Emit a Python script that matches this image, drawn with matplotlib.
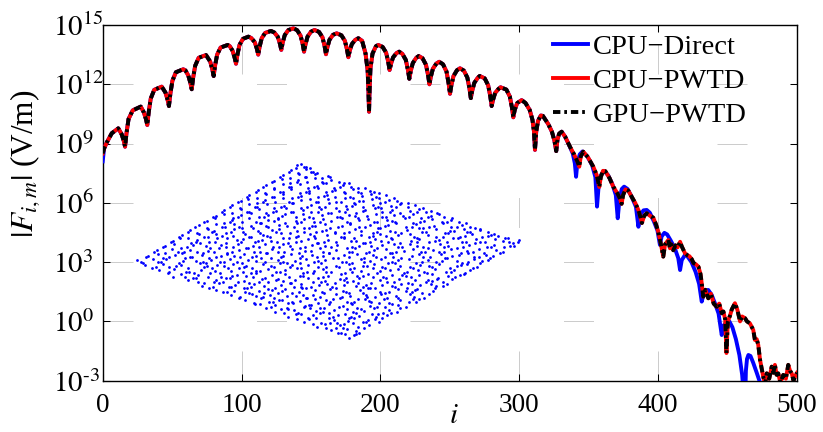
import numpy as np
import matplotlib
matplotlib.use('Agg')
import matplotlib.pyplot as plt
from matplotlib.ticker import FixedLocator, NullLocator

plt.rcParams['font.family'] = ['Liberation Serif', 'DejaVu Serif']
plt.rcParams['mathtext.fontset'] = 'stix'

# ---------------- data ----------------
x_ticks = [0, 100, 200, 300, 400, 500]
y_exps = [-3, 0, 3, 6, 9, 12, 15]
legend_labels = ['CPU\u2212Direct', 'CPU\u2212PWTD', 'GPU\u2212PWTD']

# (i, log10|F|)
pwtd_head = [(0.0, 8.50)]
direct_head = [(0.0, 8.10)]

common_pts = [
    (1.0, 8.75), (2.9, 9.05), (6.5, 9.52), (11.2, 9.77), (13.6, 9.48), (15.1, 9.15), (16.1, 8.84),
    (17.1, 9.51), (18.6, 10.24), (21.6, 10.68), (27.4, 10.87), (29.6, 10.58), (31.1, 10.25), (32.1, 9.94),
    (33.1, 10.58), (34.6, 11.28), (37.1, 11.72), (42.5, 11.88), (45.2, 11.58), (46.7, 11.22), (47.7, 10.90),
    (48.7, 11.51), (50.2, 12.18), (52.7, 12.61), (58.0, 12.76), (59.6, 12.70), (61.6, 12.45), (63.1, 12.08), (64.1, 11.75),
    (65.1, 12.32), (66.6, 12.94), (69.1, 13.34), (74.4, 13.48), (77.4, 13.15), (78.9, 12.77), (79.9, 12.42),
    (80.9, 12.94), (82.4, 13.50), (84.9, 13.86), (90.0, 13.99), (91.5, 13.93), (93.5, 13.70), (95.0, 13.35), (96.0, 13.04),
    (97.0, 13.49), (98.5, 13.99), (101.0, 14.30), (104.9, 14.41), (107.0, 14.34), (109.5, 14.13), (111.0, 13.80), (112.0, 13.50),
    (113.0, 13.90), (114.5, 14.33), (117.0, 14.60), (121.2, 14.70), (123.6, 14.62), (126.1, 14.40), (127.6, 14.06), (128.6, 13.74),
    (129.6, 14.10), (131.1, 14.49), (133.6, 14.74), (137.3, 14.83), (140.0, 14.74), (142.5, 14.46), (144.0, 14.04), (145.0, 13.65),
    (146.0, 14.01), (147.5, 14.41), (150.0, 14.66), (152.5, 14.75), (155.8, 14.65), (158.3, 14.37), (159.8, 13.93), (160.8, 13.52),
    (161.8, 13.87), (163.3, 14.25), (165.8, 14.50), (168.5, 14.58), (171.9, 14.48), (174.4, 14.20), (175.9, 13.77), (176.9, 13.37),
    (177.9, 13.69), (179.4, 14.03), (181.9, 14.25), (184.1, 14.33), (186.8, 14.20), (189.3, 13.55), (190.8, 12.70), (191.4, 11.60), (191.8, 10.61),
    (192.2, 11.70), (192.8, 12.80), (194.3, 13.55), (196.8, 13.93), (198.5, 13.99), (201.6, 13.89), (204.1, 13.60), (205.6, 13.14), (206.6, 12.72),
    (207.6, 13.03), (209.1, 13.36), (211.6, 13.58), (213.5, 13.65), (215.8, 13.54), (218.3, 13.23), (219.8, 12.73), (220.8, 12.28),
    (221.8, 12.66), (223.3, 13.07), (225.8, 13.34), (227.6, 13.43), (230.3, 13.32), (232.8, 12.99), (234.3, 12.47), (235.3, 12.00),
    (236.3, 12.38), (237.8, 12.79), (240.3, 13.05), (242.3, 13.14), (245.1, 13.01), (247.6, 12.64), (249.1, 12.05), (250.1, 11.52),
    (251.1, 11.95), (252.6, 12.41), (255.1, 12.71), (257.3, 12.81), (260.1, 12.69), (262.6, 12.34), (264.1, 11.80), (265.1, 11.30),
    (266.1, 11.67), (267.6, 12.07), (270.1, 12.33), (271.5, 12.42), (275.1, 12.30), (277.6, 11.95), (279.1, 11.40), (280.1, 10.90),
    (281.1, 11.21), (282.6, 11.56), (285.1, 11.77), (286.5, 11.85), (290.7, 11.73), (293.2, 11.38), (294.7, 10.83), (295.7, 10.33),
    (296.7, 10.70), (298.5, 11.05), (301.7, 11.20), (304.5, 11.05), (307.5, 10.70), (309.5, 10.20), (310.6, 9.60), (311.3, 8.68),
    (312.2, 9.60), (313.5, 10.15), (315.5, 10.42), (317.0, 10.40), (320.9, 9.98), (323.5, 9.60), (325.3, 9.15), (326.6, 8.62),
    (327.5, 9.20), (328.7, 9.50), (330.5, 9.60), (333.0, 9.35),
]

pwtd_tail = [
    (336.5, 8.84), (339.5, 8.45), (341.8, 8.10), (343.2, 7.83), (344.3, 8.35), (346.1, 8.59), (349.5, 8.30),
    (353.3, 7.83), (355.8, 7.40), (357.6, 6.80), (358.7, 7.30), (360.3, 7.62), (362.0, 7.60), (365.0, 7.25),
    (367.7, 6.82), (370.5, 6.50), (372.6, 6.20), (373.7, 5.95), (374.8, 6.40), (376.5, 6.68), (378.5, 6.62),
    (381.0, 6.30), (383.5, 6.00), (386.0, 5.60), (388.3, 4.98), (390.0, 5.35), (391.8, 5.47), (394.0, 5.35),
    (396.5, 5.25), (398.5, 4.90), (400.1, 4.54), (402.0, 3.90), (403.7, 3.28), (405.0, 3.90), (407.3, 4.12),
    (408.5, 3.70), (409.5, 3.90), (410.9, 3.60), (412.5, 3.85), (414.0, 3.75), (415.8, 4.03), (417.0, 3.80),
    (419.3, 3.45), (421.0, 3.35), (422.5, 3.30), (424.2, 3.15), (425.5, 2.95), (427.0, 2.90), (429.0, 2.77),
    (430.5, 2.40), (431.4, 1.93), (432.5, 1.25), (434.0, 1.60), (436.1, 1.17), (438.0, 1.40), (440.0, 0.90),
    (442.2, 0.74), (444.0, 0.90), (445.8, 0.41), (447.0, 0.50), (448.3, 0.10), (449.2, -1.60), (450.2, 0.00),
    (451.8, 0.30), (453.0, 0.60), (455.3, 0.92), (457.0, 0.60), (459.0, 0.00), (460.5, 0.25), (462.6, 0.16),
    (464.0, 0.00), (466.1, -0.10), (468.5, -0.43), (469.7, -0.94), (471.0, -0.90), (472.1, -1.19), (473.4, -1.95),
    (475.7, -2.80), (477.0, -3.20), (478.2, -2.63), (480.0, -2.90), (481.8, -2.29), (483.0, -2.60), (484.1, -2.20),
    (485.3, -2.70), (486.5, -2.63), (488.0, -3.10), (490.1, -2.71), (492.0, -2.90), (493.7, -2.20), (495.0, -2.50),
    (496.2, -2.63), (497.5, -3.00), (498.5, -2.80), (500.0, -2.60),
]

direct_tail = [
    (336.0, 8.90), (338.5, 8.50), (340.0, 8.00), (340.9, 7.32), (341.8, 8.00), (343.5, 8.45), (345.5, 8.60),
    (349.0, 8.35), (352.5, 7.90), (354.8, 7.30), (356.0, 5.81), (357.2, 6.90), (358.8, 7.40), (361.0, 7.62),
    (364.0, 7.40), (367.0, 6.95), (369.5, 6.40), (370.9, 5.22), (372.2, 6.20), (373.8, 6.70), (375.5, 6.82),
    (378.0, 6.70), (381.0, 6.30), (384.0, 5.80), (385.8, 4.79), (387.2, 5.40), (389.5, 5.62), (391.8, 5.64),
    (394.0, 5.50), (397.0, 5.05), (399.5, 4.60), (401.3, 3.87), (402.5, 4.30), (404.5, 4.48), (406.5, 4.40),
    (409.0, 4.10), (412.0, 3.70), (414.5, 3.20), (415.8, 2.60), (417.0, 3.10), (419.3, 3.36), (421.0, 3.30),
    (424.0, 3.00), (427.0, 2.50), (429.5, 1.90), (431.4, 1.00), (432.8, 1.40), (434.5, 1.58), (436.1, 1.59),
    (438.5, 1.35), (441.0, 0.90), (443.5, 0.40), (445.8, -0.69), (447.3, -0.20), (449.5, 0.00), (451.3, 0.00),
    (453.5, -0.30), (456.0, -0.90), (458.5, -1.70), (460.5, -2.70), (461.5, -3.60), (462.5, -4.50), (463.2, -2.50),
    (464.0, -1.90), (465.0, -1.70), (466.5, -1.75), (468.5, -2.10), (471.0, -2.60), (473.4, -3.10), (475.0, -3.80),
    (478.0, -4.50), (500.0, -5.00),
]

# inset point cloud (local inset coordinates u, v), read band by band
cloud_points = [
    (215,5.6),(219,2.4),(224,4.8),
    (201,10.3),(208,7.1),(213,11.6),(226,8.9),(229,6.8),
    (187,13.2),(195,16.3),(206,12.1),(210,14.8),(223,16.9),(228,12.6),(239,15.0),
    (174,18.0),(179,21.3),(191,17.2),(204,20.1),(207,16.9),(218,19.4),(224,21.9),(236,17.7),(245,20.6),(249,18.3),
    (158,23.5),(166,26.3),(178,22.1),(183,25.0),(190,26.8),(203,23.2),(215,25.7),(219,21.8),(229,24.3),(242,26.1),(246,22.6),(257,24.9),
    (145,28.2),(151,31.1),(164,29.6),(168,26.8),(180,31.7),(186,28.7),(199,27.1),(204,30.5),(217,31.4),(223,27.9),(234,29.0),(244,31.8),(253,26.7),(259,30.2),(267,28.4),
    (130,36.2),(136,32.4),(145,34.9),(157,31.8),(163,36.7),(175,33.6),(179,35.3),(194,31.9),(199,36.4),(209,33.0),(222,35.6),(227,32.1),(240,34.4),(249,36.8),(255,32.7),(268,35.1),(276,33.3),
    (115,39.8),(124,37.0),(131,41.6),(139,38.2),(152,40.5),(158,36.9),(170,39.3),(177,41.8),(188,37.4),(196,40.0),(203,41.5),(217,38.5),(221,36.7),(235,40.9),(241,38.0),(254,41.2),(259,37.1),(270,39.6),(283,41.0),(286,37.6),
    (101,44.7),(109,42.1),(122,46.3),(126,43.6),(140,45.0),(144,41.8),(157,44.2),(162,46.8),(176,42.5),(183,45.4),(190,43.1),(206,46.1),(210,41.9),(220,44.5),(233,46.6),(237,42.9),(251,45.6),(257,41.7),(266,44.0),(280,46.4),(284,43.3),(294,42.0),
    (86,50.3),(93,47.6),(104,49.4),(114,51.8),(119,46.9),(129,49.0),(138,51.2),(148,47.3),(155,50.6),(169,48.4),(172,51.7),(185,49.8),(194,46.8),(200,51.1),(213,48.9),(219,47.1),(230,50.2),(238,51.9),(250,48.1),(255,46.6),(268,50.8),(276,48.6),(287,51.4),(292,47.4),(303,49.3),
    (72,54.4),(79,51.8),(89,56.7),(99,53.5),(105,55.3),(117,52.3),(124,56.5),(134,54.1),(145,51.6),(151,55.2),(160,56.9),(171,53.0),(176,51.7),(189,54.7),(197,56.2),(206,52.4),(214,54.9),(228,56.8),(233,53.2),(240,51.9),(252,55.5),(262,53.7),(271,56.4),(277,52.0),(290,54.6),(301,56.1),(305,52.5),(313,54.0),
    (58,59.6),(66,61.7),(74,57.0),(86,60.3),(93,58.1),(100,61.9),(114,59.2),(119,56.8),(132,60.7),(138,58.3),(148,61.4),(161,57.5),(165,60.0),(178,62.0),(183,57.9),(195,59.5),(205,56.6),(210,61.2),(223,58.6),(229,61.8),(241,57.3),(250,60.4),(257,58.0),(269,61.5),(278,56.9),(285,59.9),(296,57.7),(307,61.1),(313,58.5),(322,60.6),
    (43,63.1),(51,65.9),(63,62.4),(68,64.6),(80,66.8),(91,63.0),(96,61.8),(107,65.3),(116,63.7),(126,66.6),(135,62.1),(142,64.9),(155,66.3),(159,62.6),(170,64.1),(183,66.9),(188,61.9),(198,63.8),(211,65.7),(216,62.2),(227,64.4),(238,66.5),(243,63.3),(256,61.7),(262,65.1),(274,66.7),(281,62.8),(289,64.7),(302,66.1),(308,61.8),(318,63.6),(330,65.5),
    (29,69.8),(38,67.1),(44,71.2),(56,68.4),(64,66.7),(71,70.5),(82,71.9),(90,67.5),(101,69.3),(109,71.6),(121,66.9),(126,68.8),(138,71.0),(146,67.6),(155,70.1),(167,71.8),(173,66.6),(184,69.0),(193,71.4),(201,68.2),(215,66.8),(220,70.7),(231,68.9),(243,71.7),(247,67.0),(260,69.6),(268,71.3),(277,67.8),(288,70.4),(297,66.9),(305,71.5),(316,68.5),(324,70.2),(335,67.3),(340,69.9),
    (15,74.9),(22,72.2),(33,76.4),(39,73.1),(51,75.5),(58,71.9),(70,76.8),(77,73.8),(87,75.1),(98,72.4),(103,76.2),(116,74.3),(122,71.8),(133,75.9),(144,73.0),(150,76.6),(162,74.6),(171,72.1),(178,75.3),(191,76.9),(196,72.7),(206,74.0),(219,76.3),(224,71.7),(237,73.9),(244,75.8),(255,72.5),(265,76.7),(270,74.4),(283,71.9),(290,75.2),(302,73.3),(309,76.5),(320,72.0),(331,74.8),(337,76.1),(347,73.4),
    (7,79.9),(11,77.6),(23,81.4),(31,78.0),(36,80.6),(49,77.2),(55,81.7),(66,79.1),(76,76.9),(81,80.3),(94,78.5),(100,81.3),(112,77.4),(118,79.8),(131,81.8),(135,77.9),(148,80.5),(157,76.8),(165,78.9),(176,81.2),(184,77.6),(195,80.0),(203,81.9),(212,78.2),(222,76.9),(231,80.8),(240,79.0),(251,81.5),(258,77.3),(268,79.7),(279,81.0),(286,77.0),(298,80.2),(306,78.4),(315,81.6),(327,79.3),(332,77.1),(344,80.9),(352,78.6),(358,80.1),
    (18,84.4),(28,86.5),(33,82.3),(45,84.9),(52,86.8),(62,83.1),(72,85.5),(79,81.8),(91,84.0),(97,86.3),(110,82.7),(114,85.8),(126,84.2),(137,86.9),(141,82.0),(153,83.9),(161,86.1),(170,81.9),(182,85.0),(187,83.3),(199,86.6),(208,82.4),(214,84.7),(227,86.2),(234,81.7),(243,85.3),(255,83.5),(260,86.8),(271,82.1),(282,84.3),(289,86.0),(300,83.0),(311,85.6),(317,81.9),(329,84.6),(338,86.7),(344,82.8),(356,85.1),(363,83.6),
    (27,89.6),(35,87.0),(42,91.4),(54,88.2),(60,90.3),(73,86.8),(78,89.1),(89,91.7),(97,87.5),(109,90.0),(116,91.9),(124,88.4),(136,86.9),(142,90.8),(154,88.0),(162,91.2),(169,87.3),(181,89.4),(190,91.6),(199,86.7),(206,89.9),(219,88.5),(225,91.8),(236,87.1),(244,89.7),(256,91.3),(262,86.9),(274,88.7),(283,91.0),(291,87.8),(303,90.5),(309,88.1),(321,91.5),(331,86.8),(337,89.2),(349,90.9),(354,87.4),(366,89.8),(373,88.0),
    (35,93.7),(44,95.9),(51,92.0),(63,94.6),(70,96.8),(80,92.5),(91,95.1),(96,93.3),(108,96.5),(118,91.9),(123,94.3),(135,96.2),(143,92.7),(153,95.7),(160,93.6),(170,91.8),(182,94.9),(188,96.9),(201,93.0),(207,95.4),(217,91.7),(229,94.1),(235,96.6),(247,92.3),(252,94.8),(264,96.3),(272,92.9),(280,95.6),(293,93.4),(298,91.9),(310,96.0),(318,94.4),(327,92.1),(339,95.3),(345,96.8),(357,93.1),(364,95.0),(374,92.6),(384,94.2),
    (43,99.4),(50,101.6),(61,97.2),(67,100.1),(79,98.3),(87,101.8),(96,96.9),(107,99.7),(113,101.2),(125,97.7),(132,100.5),(141,98.9),(153,101.9),(158,97.1),(171,99.2),(178,101.4),(187,96.8),(198,100.3),(206,98.0),(214,101.7),(226,99.0),(233,97.3),(245,100.8),(251,98.6),(262,101.5),(270,97.0),(281,99.5),(289,101.1),(299,97.6),(309,100.0),(317,98.4),(328,101.8),(336,97.8),(346,100.6),(355,98.1),(365,101.0),(373,99.1),(383,97.5),(389,100.2),
    (52,104.6),(58,102.0),(69,106.3),(78,103.4),(86,105.7),(97,101.8),(103,104.0),(115,106.5),(121,102.6),(133,105.2),(140,103.1),(151,106.8),(159,101.9),(168,104.4),(180,106.0),(185,102.4),(197,104.9),(205,106.7),(214,103.0),(224,101.7),(231,105.5),(243,103.6),(250,106.2),(261,102.2),(268,104.7),(280,106.4),(287,101.9),(298,105.0),(306,103.3),(318,106.6),(323,102.5),(335,104.2),(342,106.0),(352,102.9),(361,105.3),(368,103.7),(375,102.3),
    (60,109.9),(67,107.4),(78,111.5),(84,108.6),(96,106.8),(104,110.8),(113,108.0),(123,111.9),(130,107.2),(142,109.6),(149,111.3),(160,106.9),(167,108.8),(179,111.7),(186,107.7),(196,110.4),(205,108.3),(214,106.7),(225,111.1),(231,109.0),(243,107.4),(250,111.6),(260,109.5),(271,107.0),(277,110.2),(289,111.8),(296,108.1),(306,110.6),(315,106.9),(324,109.3),(334,111.4),(340,107.8),(350,110.0),(358,108.5),
    (69,114.6),(77,112.1),(86,116.3),(95,113.2),(104,115.8),(112,111.9),(121,114.1),(131,116.7),(138,112.6),(149,115.4),(157,113.7),(167,116.9),(174,112.2),(185,114.5),(195,116.4),(200,111.8),(212,113.9),(220,116.1),(229,112.9),(240,115.2),(248,111.7),(258,114.8),(266,116.6),(276,113.0),(286,115.6),(293,112.4),(304,114.3),(313,116.8),(321,112.7),(332,115.0),(340,113.5),(345,111.9),
    (77,119.4),(85,121.6),(94,117.2),(102,120.0),(112,118.1),(119,121.8),(130,117.5),(138,119.9),(148,121.2),(155,116.9),(166,119.0),(174,121.5),(184,117.8),(193,120.6),(201,118.6),(212,121.9),(220,117.1),(229,119.6),(238,121.4),(247,117.9),(257,120.3),(265,118.3),(275,121.7),(283,116.8),(294,119.2),(302,121.0),(312,117.6),(321,120.1),(329,118.0),
    (86,124.3),(94,126.4),(103,122.3),(111,125.0),(121,126.9),(129,122.6),(138,124.8),(148,121.9),(155,126.0),(166,123.4),(173,125.7),(183,122.1),(192,124.6),(201,126.7),(210,123.0),(219,125.3),(228,121.8),(237,124.0),(246,126.5),(256,122.7),(264,125.2),(273,123.6),(283,126.2),(291,122.0),(301,124.5),(309,126.0),(314,123.1),
    (94,129.9),(102,127.2),(111,131.3),(119,128.4),(129,130.6),(136,127.0),(146,129.1),(156,131.7),(163,127.7),(173,130.2),(181,128.2),(191,131.5),(198,126.9),(209,129.5),(217,131.1),(226,127.5),(235,129.8),(245,131.9),(252,128.0),(262,130.4),(270,126.8),(280,129.2),(289,131.0),(296,127.6),(301,129.4),
    (102,134.6),(110,132.1),(119,136.2),(127,133.3),(137,135.6),(144,131.9),(154,134.0),(163,136.6),(171,132.5),(181,135.1),(189,133.4),(199,136.8),(206,132.0),(216,134.4),(225,136.1),(233,132.8),(243,135.5),(251,131.8),(261,133.9),(270,136.0),(278,132.6),(285,134.8),
    (111,139.4),(118,141.5),(127,137.3),(135,140.2),(145,138.1),(153,141.8),(162,137.0),(171,139.7),(180,141.3),(188,137.9),(198,140.6),(206,138.4),(215,141.7),(224,136.9),(233,139.1),(242,141.2),(250,137.5),(259,140.0),(267,138.7),(271,137.2),
    (119,144.6),(127,142.0),(136,146.3),(144,143.4),(153,145.7),(162,141.8),(171,144.1),(179,146.6),(188,142.6),(197,145.2),(205,143.1),(215,146.8),(223,141.9),(232,144.4),(241,146.0),(249,142.5),(256,144.9),
    (128,149.9),(135,147.2),(144,151.3),(153,148.4),(161,150.6),(170,147.0),(179,149.1),(188,151.7),(196,147.7),(205,150.2),(214,148.2),(223,151.5),(231,146.9),(240,149.5),(244,147.8),
    (136,154.6),(144,152.1),(153,156.2),(161,153.3),(170,155.6),(178,151.9),(187,154.0),(196,156.6),(204,152.5),(213,155.1),(221,153.4),(228,152.0),
    (144,159.4),(152,161.5),(160,157.3),(168,160.2),(177,158.1),(185,161.8),(193,157.0),(201,159.7),(209,158.4),(214,157.1),
    (153,164.6),(160,162.0),(169,166.3),(176,163.4),(185,165.7),(192,161.9),(198,164.1),
    (161,169.9),(168,167.2),(176,171.3),(183,168.4),(187,166.9),
    (167,174.6),(171,176.2),(176,172.8),(180,171.8),
]

# further points of the cloud lying between the bands above
cloud_points_b = [
    (211,6.9),(226,5.9),
    (196,12.0),(217,10.8),(234,11.9),
    (183,16.1),(200,17.3),(214,15.9),(233,17.6),
    (167,21.0),(186,22.4),(199,21.7),(221,23.0),(238,20.4),(252,21.6),
    (154,27.4),(171,25.9),(193,27.9),(208,25.4),(226,27.1),(248,26.2),(261,27.5),
    (141,32.8),(158,30.9),(174,33.4),(190,32.0),(213,33.6),(231,31.2),(247,33.0),(270,32.3),
    (125,35.8),(143,37.9),(162,38.4),(181,35.1),(200,38.2),(224,37.7),(239,38.6),(262,36.0),(279,38.0),
    (110,42.6),(133,43.1),(149,40.2),(166,43.7),(185,40.6),(212,43.4),(228,40.8),(245,43.0),(268,42.3),(289,41.4),
    (97,47.9),(115,48.2),(134,47.5),(152,48.6),(173,45.2),(192,48.1),(216,47.8),(236,45.0),(259,48.3),(282,48.0),(299,45.9),
    (83,52.6),(101,53.0),(121,53.4),(142,50.2),(164,53.5),(181,52.7),(202,53.2),(226,53.6),(245,52.4),(265,53.3),(285,50.1),(306,53.8),
    (68,57.6),(84,58.4),(108,58.1),(129,58.0),(153,58.7),(171,55.8),(191,57.9),(217,58.3),(236,55.4),(264,58.2),(282,55.6),(302,58.8),(317,56.3),
    (55,62.6),(78,63.3),(102,63.6),(123,63.2),(146,59.9),(173,63.8),(193,63.4),(214,60.0),(233,63.6),(253,63.0),(276,63.9),(298,60.1),(325,62.9),
    (39,67.9),(59,68.2),(85,68.6),(113,68.0),(130,68.9),(150,68.3),(177,68.5),(196,67.7),(222,68.1),(250,68.8),(272,64.9),(294,68.4),(321,68.0),(334,66.0),
    (26,72.6),(46,73.8),(74,73.5),(94,73.9),(114,73.2),(141,73.6),(160,72.9),(188,73.3),(209,73.0),(233,73.7),(252,73.4),(280,73.2),(299,74.0),(327,73.6),(343,72.4),
    (13,77.0),(28,78.1),(53,78.6),(73,78.4),(90,77.7),(107,78.0),(126,78.8),(153,78.3),(170,77.5),(188,78.6),(216,77.9),(234,78.0),(262,78.5),(292,77.8),(312,78.7),(338,78.2),(350,76.8),
    (16,83.2),(39,82.8),(60,83.4),(86,83.0),(104,83.7),(122,83.1),(151,83.4),(172,83.6),(193,83.8),(219,83.3),(246,83.0),(263,83.5),(293,83.1),(322,83.7),(349,83.2),(360,82.0),
    (24,87.6),(48,88.2),(67,88.0),(84,87.9),(102,88.5),(130,87.8),(148,88.4),(175,88.6),(193,88.1),(222,87.7),(239,88.3),(266,88.0),(295,88.5),(314,88.2),(343,87.9),(370,86.9),
    (33,92.8),(57,93.2),(76,93.6),(103,93.0),(129,93.4),(149,93.5),(175,93.1),(195,93.7),(222,93.3),(241,93.6),(268,93.2),(287,93.8),(314,93.0),(333,93.5),(361,93.3),(380,93.6),
    (41,98.0),(66,98.4),(85,97.8),(111,98.2),(128,98.6),(147,97.9),(166,98.5),(194,98.1),(221,98.7),(240,97.8),(258,98.3),(287,98.0),(305,98.6),(332,98.2),(350,97.7),(379,98.5),(388,97.9),
    (49,103.3),(74,103.0),(92,103.6),(119,102.9),(137,103.8),(166,103.2),(184,103.6),(211,102.9),(239,103.4),(256,103.7),(284,103.1),(313,103.5),(330,103.0),(358,103.6),(378,101.9),
    (58,107.9),(82,108.3),(101,108.0),(128,108.6),(146,107.9),(174,108.1),(192,108.7),(219,108.2),(247,107.8),(265,108.5),(292,108.0),(320,108.6),(337,108.3),(364,106.3),
    (65,112.9),(92,113.4),(109,113.0),(136,113.6),(164,113.1),(182,113.8),(208,113.3),(235,113.2),(255,113.7),(282,113.0),(299,113.5),(327,113.2),(350,111.0),
    (74,118.1),(100,118.4),(126,117.8),(144,118.6),(171,118.0),(190,118.5),(217,118.2),(244,117.9),(262,118.6),(290,118.1),(317,118.4),(336,116.8),
    (83,123.0),(108,123.4),(134,122.9),(152,123.6),(179,123.1),(207,123.3),(225,123.8),(252,123.0),(279,123.5),(298,122.8),(322,121.8),
    (92,127.9),(117,128.3),(143,127.7),(161,128.5),(188,128.0),(215,128.4),(233,128.6),(260,127.9),(287,128.2),(307,126.6),
    (100,132.9),(125,133.4),(151,132.8),(177,133.5),(195,133.0),(222,133.6),(248,133.1),(266,133.4),(293,131.8),
    (108,138.0),(133,138.4),(159,137.9),(186,138.5),(211,138.1),(229,138.6),(255,138.0),(278,136.7),
    (117,143.0),(142,143.4),(168,142.9),(194,143.6),(220,143.1),(246,143.4),(264,141.8),
    (126,148.0),(150,148.3),(176,147.9),(202,148.6),(228,148.1),(249,146.7),
    (133,153.0),(159,153.3),(184,152.8),(210,153.5),(235,151.8),
    (142,157.9),(167,158.4),(192,157.8),(219,156.9),
    (150,163.0),(175,163.3),(200,162.8),
    (159,168.0),(181,167.9),
    (166,172.4),(174,173.5),
]

# ---------------- build series ----------------
pwtd = pwtd_head + common_pts + pwtd_tail
direct = direct_head + common_pts + direct_tail
pw_i = np.array([p[0] for p in pwtd]); pw_v = 10.0 ** np.array([p[1] for p in pwtd])
di_i = np.array([p[0] for p in direct]); di_v = 10.0 ** np.array([p[1] for p in direct])
all_cloud = cloud_points + cloud_points_b
cloud_u = [p[0] for p in all_cloud]
cloud_v = [p[1] for p in all_cloud]


def exp_label(e):
    if e < 0:
        return r'$10^{\text{-}%d}$' % (-e)
    return r'$10^{%d}$' % e


# ---------------- figure ----------------
fig = plt.figure(figsize=(8.23, 4.32), dpi=100)
ax = fig.add_axes([0.1248, 0.1188, 0.8436, 0.8233])
ax.set_yscale('log')

lw = 2.8
l1, = ax.plot(di_i, di_v, color='#0000ff', lw=lw, zorder=3)
l2, = ax.plot(pw_i, pw_v, color='#ff0000', lw=lw, zorder=4)
l3, = ax.plot(pw_i, pw_v, color='black', lw=lw, linestyle=(0, (1.9, 1.0, 0.7, 1.0)), zorder=5)

ax.set_xlim(0, 500)
ax.set_ylim(1e-3, 1e15)
ax.xaxis.set_major_locator(FixedLocator(x_ticks))
ax.yaxis.set_major_locator(FixedLocator([10.0 ** e for e in y_exps]))
ax.yaxis.set_minor_locator(NullLocator())
ax.xaxis.set_minor_locator(NullLocator())
ax.set_xticklabels([str(t) for t in x_ticks], fontsize=19.6)
ax.set_yticklabels([exp_label(e) for e in y_exps], fontsize=20.8, ha='left')

ax.grid(True, color='#cccccc', lw=0.72, linestyle=(0, (30, 123.5)))
ax.tick_params(which='both', direction='in', top=True, right=True,
               length=5, width=0.75, color='black')
ax.tick_params(axis='y', pad=36)
ax.tick_params(axis='x', pad=9)
for sp in ax.spines.values():
    sp.set_linewidth(1.0)

ax.set_ylabel(r'$|F_{i,m}|$ (V/m)', fontsize=22.5)
ax.yaxis.set_label_coords(-0.0874, 0.609)
ax.set_xlabel(r'$i$', fontsize=21)
ax.xaxis.set_label_coords(0.506, -0.062)

ax.legend([l1, l2, l3], legend_labels, loc='upper left',
          bbox_to_anchor=(0.6486, 0.9734), frameon=False, fontsize=20.5,
          handlelength=1.23, handletextpad=0.18, labelspacing=0.28,
          borderpad=0, borderaxespad=0)

# inset point cloud
ax_in = fig.add_axes([130 / 823, 1 - 340 / 432, 400 / 823, 180 / 432])
ax_in.set_xlim(0, 400)
ax_in.set_ylim(0, 180)
ax_in.axis('off')
ax_in.plot(cloud_u, cloud_v, linestyle='none', marker='o', ms=2.0, mew=0, color='#0000ff')

fig.savefig('out.png', dpi=100)
